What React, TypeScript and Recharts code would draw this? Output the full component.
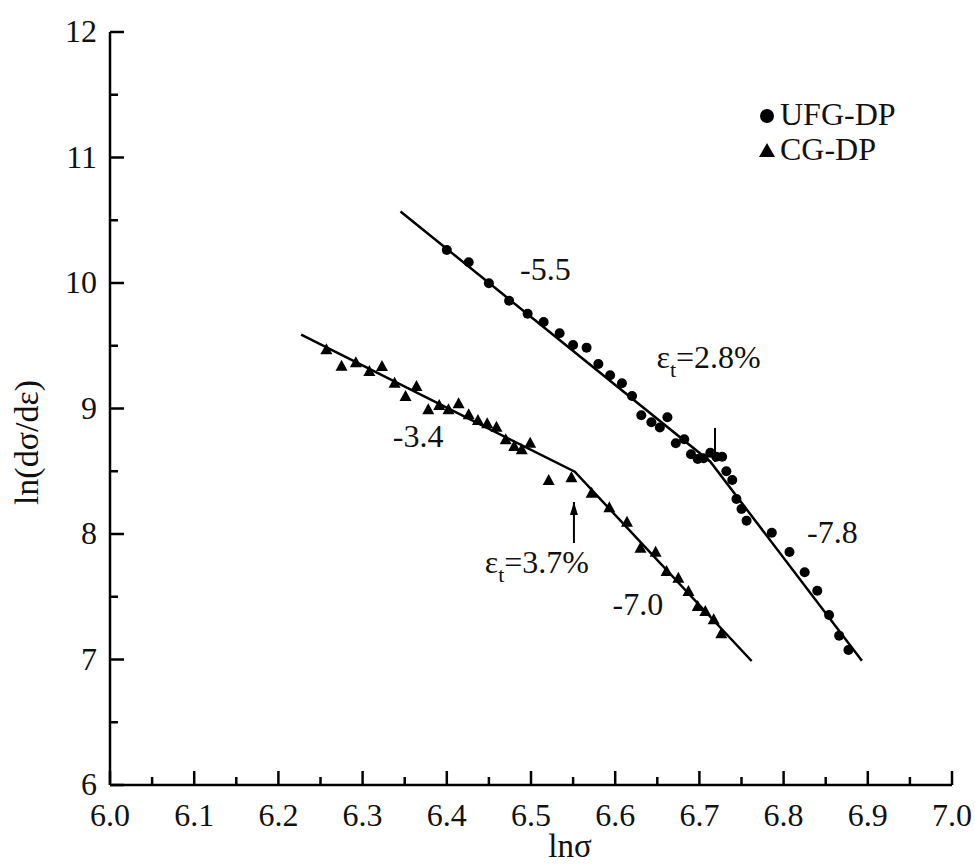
import React from "react"
import { ComposedChart, Line, Scatter, XAxis, YAxis, ReferenceDot, ReferenceLine, Legend } from "recharts"

const FONT = '"Liberation Serif", "Times New Roman", serif'
const FS = 32
const INK = "#111"

// UFG-DP (circles)
const ufgX = [6.400, 6.426, 6.450, 6.474, 6.496, 6.515, 6.534, 6.550, 6.566, 6.580, 6.594, 6.608, 6.620, 6.631, 6.643, 6.653, 6.662, 6.672, 6.682, 6.690, 6.698, 6.705, 6.713, 6.720, 6.727, 6.732, 6.739, 6.744, 6.750, 6.756, 6.786, 6.807, 6.825, 6.840, 6.854, 6.866, 6.877]
const ufgY = [10.263, 10.165, 9.998, 9.859, 9.755, 9.689, 9.599, 9.506, 9.485, 9.355, 9.265, 9.201, 9.100, 8.946, 8.890, 8.849, 8.930, 8.723, 8.755, 8.635, 8.598, 8.603, 8.648, 8.616, 8.616, 8.500, 8.430, 8.279, 8.199, 8.106, 8.010, 7.857, 7.695, 7.548, 7.355, 7.190, 7.076]

// CG-DP (triangles)
const cgX = [6.257, 6.275, 6.292, 6.308, 6.323, 6.338, 6.351, 6.364, 6.378, 6.391, 6.402, 6.414, 6.426, 6.437, 6.448, 6.459, 6.470, 6.480, 6.489, 6.499, 6.521, 6.548, 6.572, 6.593, 6.614, 6.630, 6.648, 6.661, 6.675, 6.687, 6.698, 6.707, 6.717, 6.726]
const cgY = [9.472, 9.341, 9.368, 9.299, 9.339, 9.206, 9.100, 9.179, 8.994, 9.028, 8.994, 9.041, 8.954, 8.908, 8.882, 8.855, 8.755, 8.701, 8.675, 8.728, 8.430, 8.452, 8.329, 8.213, 8.098, 7.891, 7.859, 7.705, 7.652, 7.546, 7.426, 7.386, 7.320, 7.209]

// bilinear fits (start, break, end)
const ufgFitX = [6.345, 6.713, 6.893]
const ufgFitY = [10.57, 8.576, 6.99]
const cgFitX = [6.227, 6.552, 6.762]
const cgFitY = [9.588, 8.496, 6.988]

const xTicks = [6.0, 6.05, 6.1, 6.15, 6.2, 6.25, 6.3, 6.35, 6.4, 6.45, 6.5, 6.55, 6.6, 6.65, 6.7, 6.75, 6.8, 6.85, 6.9, 6.95, 7.0]
const yTicks = [6, 6.5, 7, 7.5, 8, 8.5, 9, 9.5, 10, 10.5, 11, 11.5, 12]

const toPts = (xs: number[], ys: number[]) => xs.map((x, i) => ({ x, y: ys[i] }))
const ufgData = toPts(ufgX, ufgY)
const cgData = toPts(cgX, cgY)
const ufgFit = toPts(ufgFitX, ufgFitY)
const cgFit = toPts(cgFitX, cgFitY)

const isMajorX = (v: number) => Math.abs(v * 10 - Math.round(v * 10)) < 1e-6
const isMajorY = (v: number) => Math.abs(v - Math.round(v)) < 1e-6
const MAJOR = 14
const MINOR = 8

function BottomTick(props: any) {
  const { x, y, payload } = props
  const major = isMajorX(payload.value)
  return (
    <g>
      <line x1={x} y1={y} x2={x} y2={y - (major ? MAJOR : MINOR)} stroke="#000" strokeWidth={2.5} />
      {major && (
        <text x={x} y={y + 41} textAnchor="middle" fontFamily={FONT} fontSize={FS} fill={INK}>
          {payload.value.toFixed(1)}
        </text>
      )}
    </g>
  )
}

function TopTick(props: any) {
  const { x, y, payload } = props
  const major = isMajorX(payload.value)
  return <line x1={x} y1={y} x2={x} y2={y + (major ? MAJOR : MINOR)} stroke="#000" strokeWidth={2.5} />
}

function LeftTick(props: any) {
  const { x, y, payload } = props
  const major = isMajorY(payload.value)
  return (
    <g>
      <line x1={x} y1={y} x2={x + (major ? MAJOR : MINOR)} y2={y} stroke="#000" strokeWidth={2.5} />
      {major && (
        <text x={x - 13} y={y + 10} textAnchor="end" fontFamily={FONT} fontSize={FS} fill={INK}>
          {payload.value}
        </text>
      )}
    </g>
  )
}

function RightTick(props: any) {
  const { x, y, payload } = props
  const major = isMajorY(payload.value)
  return <line x1={x} y1={y} x2={x - (major ? MAJOR : MINOR)} y2={y} stroke="#000" strokeWidth={2.5} />
}

const Circle = (props: any) => <circle cx={props.cx} cy={props.cy} r={5} fill="#000" />
const Triangle = (props: any) => {
  const { cx, cy } = props
  return <polygon points={`${cx},${cy - 6} ${cx - 6},${cy + 5} ${cx + 6},${cy + 5}`} fill="#000" />
}

// plain text annotation anchored at a data point (baseline)
const textLabel = (txt: string, anchor: "start" | "middle" = "middle") => (p: any) => {
  const { x, y } = p.viewBox
  return (
    <text x={x} y={y} textAnchor={anchor} fontFamily={FONT} fontSize={FS} fill={INK}>
      {txt}
    </text>
  )
}

const strainLabel = (rest: string) => (p: any) => {
  const { x, y } = p.viewBox
  return (
    <text x={x} y={y} textAnchor="start" fontFamily={FONT} fontSize={FS} fill={INK}>
      <tspan>ε</tspan>
      <tspan dy={9} fontSize={22}>t</tspan>
      <tspan dy={-9}>{rest}</tspan>
    </text>
  )
}

const arrowShape = (props: any) => {
  const { x1, y1, x2, y2 } = props
  const dir = y2 < y1 ? 1 : -1
  return (
    <g>
      <line x1={x1} y1={y1} x2={x2} y2={y2} stroke="#000" strokeWidth={2} />
      <polygon points={`${x2},${y2} ${x2 - 4},${y2 + dir * 13} ${x2 + 4},${y2 + dir * 13}`} fill="#000" />
    </g>
  )
}

const plainSegment = (props: any) => {
  const { x1, y1, x2, y2 } = props
  return <line x1={x1} y1={y1} x2={x2} y2={y2} stroke="#000" strokeWidth={2} />
}

function LegendBox() {
  const row = { display: "flex", alignItems: "center", height: 35, lineHeight: "35px" } as const
  return (
    <div style={{ fontFamily: FONT, fontSize: FS, color: INK }}>
      <div style={row}>
        <svg width={22} height={20}><circle cx={9} cy={11} r={7} fill="#000" /></svg>
        <span>UFG-DP</span>
      </div>
      <div style={row}>
        <svg width={22} height={20}><polygon points="9,3 1,17 17,17" fill="#000" /></svg>
        <span>CG-DP</span>
      </div>
    </div>
  )
}

export default function App() {
  return (
    <div style={{ position: "absolute", left: 0, top: 0, width: 975, height: 867, background: "#fff" }}>
      <ComposedChart width={975} height={867} margin={{ top: 32, right: 23, bottom: 0, left: 0 }}>
        <XAxis
          xAxisId="b"
          dataKey="x"
          type="number"
          domain={[6, 7]}
          allowDataOverflow
          ticks={xTicks}
          interval={0}
          height={82}
          tickSize={0}
          tickMargin={0}
          tickLine={false}
          tick={BottomTick}
          axisLine={{ stroke: "#000", strokeWidth: 2.5 }}
          label={{
            content: (p: any) => (
              <text x={570} y={p.viewBox.y + 72} textAnchor="middle" fontFamily={FONT} fontSize={33} fill={INK}>
                lnσ
              </text>
            ),
          }}
        />
        <XAxis
          xAxisId="t"
          orientation="top"
          type="number"
          domain={[6, 7]}
          allowDataOverflow
          ticks={xTicks}
          interval={0}
          height={0}
          tickSize={0}
          tickMargin={0}
          tickLine={false}
          tick={TopTick}
          axisLine={{ stroke: "#000", strokeWidth: 2.5 }}
        />
        <YAxis
          yAxisId="l"
          type="number"
          domain={[6, 12]}
          allowDataOverflow
          ticks={yTicks}
          interval={0}
          width={110}
          tickSize={0}
          tickMargin={0}
          tickLine={false}
          tick={LeftTick}
          axisLine={{ stroke: "#000", strokeWidth: 2.5 }}
          label={{
            content: (p: any) => {
              const cy = p.viewBox.y + p.viewBox.height / 2 + 34
              return (
                <text x={38} y={cy} transform={`rotate(-90 38 ${cy})`} textAnchor="middle" fontFamily={FONT} fontSize={34} fill={INK}>
                  ln(dσ/dε)
                </text>
              )
            },
          }}
        />
        <YAxis
          yAxisId="r"
          orientation="right"
          type="number"
          domain={[6, 12]}
          allowDataOverflow
          ticks={yTicks}
          interval={0}
          width={0}
          tickSize={0}
          tickMargin={0}
          tickLine={false}
          tick={RightTick}
          axisLine={{ stroke: "#000", strokeWidth: 2.5 }}
        />

        <Line xAxisId="b" yAxisId="l" data={ufgFit} dataKey="y" type="linear" stroke="#000" strokeWidth={2.5} dot={false} isAnimationActive={false} />
        <Line xAxisId="b" yAxisId="l" data={cgFit} dataKey="y" type="linear" stroke="#000" strokeWidth={2.5} dot={false} isAnimationActive={false} />
        <Scatter xAxisId="b" yAxisId="l" name="UFG-DP" data={ufgData} dataKey="y" shape={Circle} isAnimationActive={false} />
        <Scatter xAxisId="b" yAxisId="l" name="CG-DP" data={cgData} dataKey="y" shape={Triangle} isAnimationActive={false} />

        <ReferenceDot xAxisId="b" yAxisId="l" x={6.517} y={10.024} r={0} fill="none" stroke="none" label={{ content: textLabel("-5.5") }} />
        <ReferenceDot xAxisId="b" yAxisId="l" x={6.366} y={8.693} r={0} fill="none" stroke="none" label={{ content: textLabel("-3.4") }} />
        <ReferenceDot xAxisId="b" yAxisId="l" x={6.627} y={7.355} r={0} fill="none" stroke="none" label={{ content: textLabel("-7.0") }} />
        <ReferenceDot xAxisId="b" yAxisId="l" x={6.858} y={7.928} r={0} fill="none" stroke="none" label={{ content: textLabel("-7.8") }} />
        <ReferenceDot xAxisId="b" yAxisId="l" x={6.649} y={9.323} r={0} fill="none" stroke="none" label={{ content: strainLabel("=2.8%") }} />
        <ReferenceDot xAxisId="b" yAxisId="l" x={6.445} y={7.687} r={0} fill="none" stroke="none" label={{ content: strainLabel("=3.7%") }} />

        <ReferenceLine xAxisId="b" yAxisId="l" segment={[{ x: 6.7185, y: 8.845 }, { x: 6.7185, y: 8.574 }]} shape={plainSegment} />
        <ReferenceLine xAxisId="b" yAxisId="l" segment={[{ x: 6.551, y: 7.928 }, { x: 6.551, y: 8.255 }]} shape={arrowShape} />

        <Legend
          layout="vertical"
          align="center"
          verticalAlign="middle"
          wrapperStyle={{ left: 758, top: 97, width: 190 }}
          content={() => <LegendBox />}
        />
      </ComposedChart>
    </div>
  )
}
